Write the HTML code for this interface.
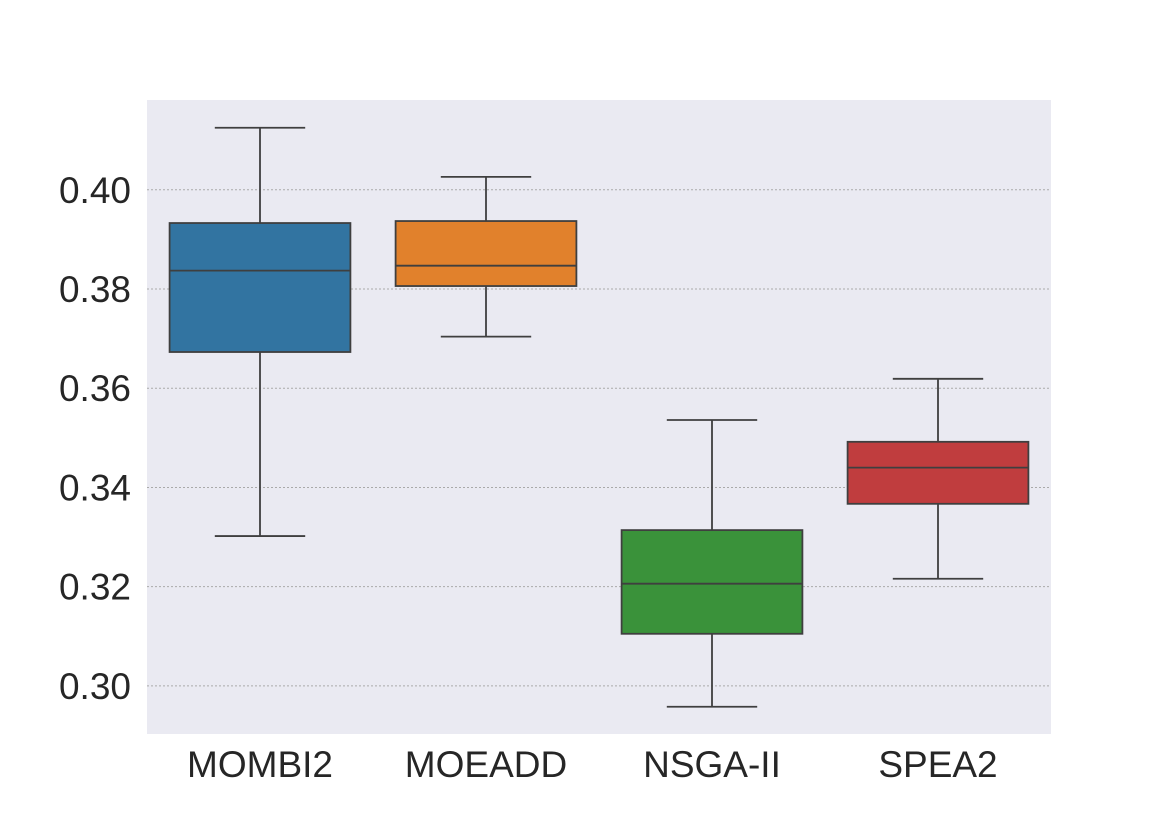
<!DOCTYPE html>
<html><head><meta charset="utf-8"><style>
html,body{margin:0;padding:0;background:#fff;}
svg text{font-family:"Liberation Sans",sans-serif;fill:#262626;}
</style></head><body>
<svg id="chart" width="1170" height="827" xmlns="http://www.w3.org/2000/svg">
<rect x="147" y="100" width="904" height="634" fill="#eaeaf2"/>
<g id="grid"></g><g id="boxes"></g><g id="yticks"></g><g id="xticks"></g>
</svg>
<script>
const categories = ["MOMBI2","MOEADD","NSGA-II","SPEA2"];
const whiskerLow = [0.3302,0.3704,0.2958,0.3216];
const q1 = [0.3673,0.3806,0.3105,0.3367];
const median = [0.3837,0.3847,0.3206,0.3440];
const q3 = [0.3933,0.3937,0.3314,0.3492];
const whiskerHigh = [0.4125,0.4026,0.3536,0.3619];
const colors = ["#3274a1","#e1812c","#3a923a","#c03d3e"];
const yTicks = [0.30,0.32,0.34,0.36,0.38,0.40];
const yMin=0.2903, yMax=0.4181, plotTop=100, plotBot=734, plotLeft=147, plotRight=1051;
const NS="http://www.w3.org/2000/svg";
const yScale=v=>plotBot-(v-yMin)/(yMax-yMin)*(plotBot-plotTop);
const band=(plotRight-plotLeft)/categories.length;
const xScale=i=>plotLeft+band*(i+0.5);
function mk(tag,attrs,parent){const e=document.createElementNS(NS,tag);for(const k in attrs)e.setAttribute(k,attrs[k]);document.getElementById(parent).appendChild(e);return e;}
yTicks.forEach(t=>{
  const g=mk('line',{x1:plotLeft,x2:plotRight,y1:yScale(t),y2:yScale(t),stroke:'#aaa','stroke-width':1,'stroke-dasharray':'2,2'},'grid');
  
  
  const l=mk('text',{x:131,y:yScale(t)+13,'text-anchor':'end','font-size':37},'yticks');
  l.textContent=t.toFixed(2);
  
  
});
categories.forEach((c,i)=>{
  const cx=xScale(i),w=band*0.8,s='#3f3f3f';
  const g=mk('g',{},'boxes');
  
  
  const add=(tag,a)=>{const e=document.createElementNS(NS,tag);for(const k in a)e.setAttribute(k,a[k]);g.appendChild(e);};
  add('line',{x1:cx,x2:cx,y1:yScale(whiskerHigh[i]),y2:yScale(q3[i]),stroke:s,'stroke-width':1.8});
  add('line',{x1:cx,x2:cx,y1:yScale(q1[i]),y2:yScale(whiskerLow[i]),stroke:s,'stroke-width':1.8});
  add('line',{x1:cx-w/4,x2:cx+w/4,y1:yScale(whiskerHigh[i]),y2:yScale(whiskerHigh[i]),stroke:s,'stroke-width':1.8});
  add('line',{x1:cx-w/4,x2:cx+w/4,y1:yScale(whiskerLow[i]),y2:yScale(whiskerLow[i]),stroke:s,'stroke-width':1.8});
  add('rect',{x:cx-w/2,y:yScale(q3[i]),width:w,height:yScale(q1[i])-yScale(q3[i]),fill:colors[i],stroke:s,'stroke-width':1.8});
  add('line',{x1:cx-w/2,x2:cx+w/2,y1:yScale(median[i]),y2:yScale(median[i]),stroke:s,'stroke-width':1.8});
  const l=mk('text',{x:cx,y:777,'text-anchor':'middle','font-size':37},'xticks');
  l.textContent=c;
  
  
});
</script>
</body></html>
